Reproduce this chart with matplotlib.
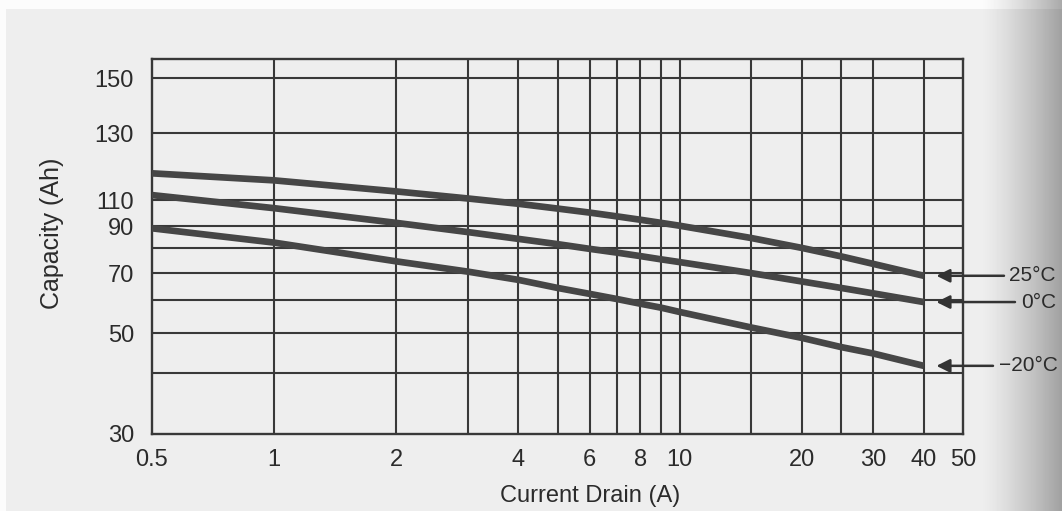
import numpy as np
import matplotlib
matplotlib.use('Agg')
import matplotlib.pyplot as plt
from matplotlib.ticker import FixedLocator, NullLocator

plt.rcParams['font.family'] = ['Liberation Sans', 'DejaVu Sans']

# current drain (A) and capacity (Ah)
current = [0.5, 1, 2, 3, 4, 5, 6, 7, 8, 9, 10, 15, 20, 25, 30, 40]
cap_25 = [118, 115.9, 112.6, 110.5, 107.2, 103.5, 100.4, 97.5, 94.9, 92.5, 90.3, 84.6, 80.1, 76.7, 73.7, 69.0]
cap_0 = [111.5, 103.8, 92.5, 87.3, 84.2, 81.8, 79.7, 78.2, 76.8, 75.5, 74.4, 70.0, 66.9, 64.5, 62.5, 59.4]
cap_m20 = [89.0, 82.5, 74.7, 70.6, 67.5, 64.5, 62.3, 60.4, 58.9, 57.7, 56.4, 51.7, 48.8, 46.5, 44.9, 41.8]
temps = ['25°C', '0°C', '−20°C']

xticks = [0.5, 1, 2, 4, 6, 8, 10, 20, 30, 40, 50]
xgrid = [1, 2, 3, 4, 5, 6, 7, 8, 9, 10, 15, 20, 25, 30, 40]
yticks = [30, 50, 70, 90, 110, 130, 150]
ygrid = [40, 50, 60, 70, 80, 90, 110, 130, 150]

# the printed y axis is not uniform: piecewise scale through the grid lines
knot_val = [20, 30, 40, 50, 60, 70, 80, 90, 110, 130, 150, 200]
knot_pos = [-61, 0, 61, 101, 134, 161, 186, 208, 234, 301, 356, 493]


def fwd(v):
    return np.interp(v, knot_val, knot_pos)


def inv(p):
    return np.interp(p, knot_pos, knot_val)


W, H = 1062, 511
fig = plt.figure(figsize=(W / 100, H / 100), dpi=100)

# scanned paper background: light grey, white margins, shadow at right edge
bg = np.full((H, W), 238.0)
bg[:9, :] = 252
bg[:, :6] = 252
xx = np.arange(W)
shade = np.clip((xx - 980) / 82.0, 0, 1) ** 1.3
bg = bg * (1 - 0.33 * shade)[None, :]
bax = fig.add_axes([0, 0, 1, 1], zorder=-1)
bax.imshow(bg, cmap='gray', vmin=0, vmax=255, aspect='auto')
bax.axis('off')

ax = fig.add_axes([152 / W, 1 - 434 / H, (963 - 152) / W, (434 - 59) / H])
ax.patch.set_alpha(0)
ax.set_xscale('log')
ax.set_yscale('function', functions=(fwd, inv))
ax.set_xlim(0.5, 50)
ax.set_ylim(30, 157)

gc = '#383838'
for v in xgrid:
    ax.axvline(v, color=gc, lw=1.5, zorder=1)
for v in ygrid:
    ax.axhline(v, color=gc, lw=1.5, zorder=1)
for s in ax.spines.values():
    s.set_color(gc)
    s.set_linewidth(1.7)

lc = '#464646'
ax.plot(current, cap_25, color=lc, lw=4.8, zorder=3, solid_capstyle='butt')
ax.plot(current, cap_0, color=lc, lw=4.8, zorder=3, solid_capstyle='butt')
ax.plot(current, cap_m20, color=lc, lw=4.8, zorder=3, solid_capstyle='butt')

tc = '#2b2b2b'
ax.xaxis.set_major_locator(FixedLocator(xticks))
ax.xaxis.set_minor_locator(NullLocator())
ax.set_xticklabels([('%g' % v) for v in xticks])
ax.yaxis.set_major_locator(FixedLocator(yticks))
ax.yaxis.set_minor_locator(NullLocator())
ax.set_yticklabels([str(v) for v in yticks])
ax.tick_params(axis='both', length=0, labelsize=17, labelcolor=tc)
ax.tick_params(axis='x', pad=11)
ax.tick_params(axis='y', pad=13)

ax.set_xlabel('Current Drain (A)', fontsize=17, color=tc)
ax.xaxis.set_label_coords(0.54, -0.135)
ax.set_ylabel('Capacity (Ah)', fontsize=18, color=tc)
ax.yaxis.set_label_coords(-0.108, 0.535)

# arrows and temperature labels on the right
tails = [1004 / W, 1015 / W, 993 / W]
texts = [1009 / W, 1021 / W, 999 / W]
for name, caps, tx, lx in zip(temps, [cap_25, cap_0, cap_m20], tails, texts):
    ax.annotate('', xy=(43, caps[-1]), xycoords='data',
                xytext=(tx, caps[-1]), textcoords=('figure fraction', 'data'),
                arrowprops=dict(arrowstyle='-|>', color='#333333', lw=1.8,
                                mutation_scale=20, shrinkA=0, shrinkB=0),
                annotation_clip=False)
    ax.annotate(name, xy=(lx, caps[-1]), xycoords=('figure fraction', 'data'),
                fontsize=15, color=tc, ha='left', va='center',
                annotation_clip=False)

plt.savefig('out.png', dpi=100)
